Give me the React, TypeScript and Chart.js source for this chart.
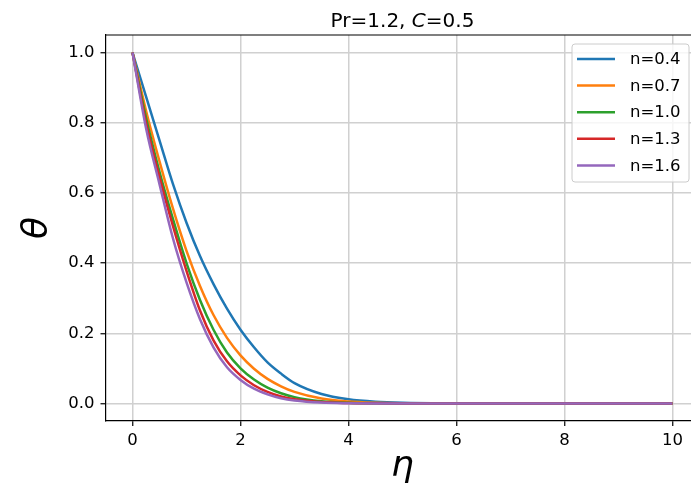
import React, { useEffect, useRef } from "react";
import { Chart, registerables } from "chart.js";

Chart.register(...registerables);

// ---- data ----
const eta = [0, 0.25, 0.5, 0.75, 1, 1.25, 1.5, 1.75, 2, 2.25, 2.5, 2.75, 3, 3.5, 4, 4.5, 5, 6, 7, 8, 9, 10];
const thetaN04 = [1, 0.875, 0.75, 0.625, 0.515, 0.42, 0.34, 0.27, 0.21, 0.16, 0.117, 0.085, 0.058, 0.027, 0.012, 0.005, 0.002, 0.0004, 0, 0, 0, 0];
const thetaN07 = [1, 0.835, 0.69, 0.555, 0.435, 0.335, 0.252, 0.187, 0.137, 0.099, 0.07, 0.049, 0.033, 0.014, 0.0055, 0.002, 0.0007, 0, 0, 0, 0, 0];
const thetaN10 = [1, 0.815, 0.66, 0.525, 0.4, 0.295, 0.21, 0.145, 0.1, 0.068, 0.045, 0.029, 0.018, 0.0065, 0.002, 0.0006, 0, 0, 0, 0, 0, 0];
const thetaN13 = [1, 0.8, 0.645, 0.505, 0.378, 0.265, 0.18, 0.12, 0.08, 0.052, 0.033, 0.02, 0.012, 0.0038, 0.0011, 0.0003, 0, 0, 0, 0, 0, 0];
const thetaN16 = [1, 0.785, 0.625, 0.47, 0.345, 0.24, 0.16, 0.103, 0.067, 0.042, 0.026, 0.015, 0.0085, 0.0024, 0.0006, 0, 0, 0, 0, 0, 0, 0];

const seriesLabels = ["n=0.4", "n=0.7", "n=1.0", "n=1.3", "n=1.6"];
const seriesValues = [thetaN04, thetaN07, thetaN10, thetaN13, thetaN16];
const seriesColors = ["#1f77b4", "#ff7f0e", "#2ca02c", "#d62728", "#9467bd"];

const xTicks = [0, 2, 4, 6, 8, 10];
const yTicks = [0, 0.2, 0.4, 0.6, 0.8, 1.0];

// visible x window (the axes run to 10.5 but the picture is cut at the right edge)
const X_MIN = -0.5;
const X_MAX_VISIBLE = 10.343;

const FONT = "'DejaVu Sans', sans-serif";

const overlayPlugin = {
  id: "overlay",
  afterDraw(chart: any) {
    const ctx = chart.ctx as CanvasRenderingContext2D;
    const ca = chart.chartArea;
    const xs = chart.scales.x;
    ctx.save();
    // top spine
    ctx.strokeStyle = "#000";
    ctx.lineWidth = 1.2;
    ctx.beginPath();
    ctx.moveTo(ca.left, ca.top);
    ctx.lineTo(ca.right + 2, ca.top);
    ctx.stroke();

    // title centred on full axes (-0.5 .. 10.5)
    const cx = (xs.getPixelForValue(-0.5) + xs.getPixelForValue(10.5)) / 2;
    const parts = [
      { t: "Pr=1.2, ", f: `20px ${FONT}` },
      { t: "C", f: `italic 20px ${FONT}` },
      { t: "=0.5", f: `20px ${FONT}` },
    ];
    let total = 0;
    for (const p of parts) {
      ctx.font = p.f;
      total += ctx.measureText(p.t).width;
    }
    let x = cx - total / 2;
    ctx.fillStyle = "#000";
    ctx.textBaseline = "alphabetic";
    ctx.textAlign = "left";
    for (const p of parts) {
      ctx.font = p.f;
      ctx.fillText(p.t, x, 27);
      x += ctx.measureText(p.t).width;
    }

    // axis labels
    ctx.font = `italic 36px ${FONT}`;
    ctx.textAlign = "center";
    ctx.fillText("η", cx, 476);
    ctx.save();
    ctx.translate(47, (ca.top + ca.bottom) / 2);
    ctx.rotate(-Math.PI / 2);
    ctx.fillText("θ", 0, 0);
    ctx.restore();

    // legend
    const bx = 572, by = 44, bw = 117, bh = 138, r = 3;
    ctx.beginPath();
    ctx.moveTo(bx + r, by);
    ctx.lineTo(bx + bw - r, by);
    ctx.quadraticCurveTo(bx + bw, by, bx + bw, by + r);
    ctx.lineTo(bx + bw, by + bh - r);
    ctx.quadraticCurveTo(bx + bw, by + bh, bx + bw - r, by + bh);
    ctx.lineTo(bx + r, by + bh);
    ctx.quadraticCurveTo(bx, by + bh, bx, by + bh - r);
    ctx.lineTo(bx, by + r);
    ctx.quadraticCurveTo(bx, by, bx + r, by);
    ctx.closePath();
    ctx.fillStyle = "rgba(255,255,255,0.8)";
    ctx.fill();
    ctx.strokeStyle = "#cccccc";
    ctx.lineWidth = 1;
    ctx.stroke();

    ctx.font = `16.5px ${FONT}`;
    ctx.textAlign = "left";
    ctx.textBaseline = "middle";
    chart.data.datasets.forEach((ds: any, i: number) => {
      const ry = 59 + i * 26.6;
      ctx.strokeStyle = ds.borderColor;
      ctx.lineWidth = 2.5;
      ctx.beginPath();
      ctx.moveTo(577, ry);
      ctx.lineTo(615, ry);
      ctx.stroke();
      ctx.fillStyle = "#000";
      ctx.fillText(ds.label, 630, ry + 1);
    });
    ctx.restore();
  },
};

export default function App() {
  const ref = useRef<HTMLCanvasElement | null>(null);

  useEffect(() => {
    if (!ref.current) return;
    const datasets = seriesLabels.map((label, i) => ({
      label,
      data: eta.map((e, k) => ({ x: e, y: seriesValues[i][k] })),
      borderColor: seriesColors[i],
      backgroundColor: seriesColors[i],
      borderWidth: 2.5,
      pointRadius: 0,
      fill: false,
      cubicInterpolationMode: "monotone" as const,
      order: seriesLabels.length - i,
    }));

    const chart = new Chart(ref.current, {
      type: "line",
      data: { datasets },
      options: {
        responsive: false,
        animation: false,
        devicePixelRatio: 1,
        layout: { padding: { top: 35, left: 0, right: 0, bottom: 0 } },
        plugins: {
          legend: { display: false },
          title: { display: false },
          tooltip: { enabled: false },
        },
        scales: {
          x: {
            type: "linear",
            min: X_MIN,
            max: X_MAX_VISIBLE,
            afterFit: (s: any) => {
              s.height = 69;
            },
            afterBuildTicks: (s: any) => {
              s.ticks = xTicks.map((v) => ({ value: v }));
            },
            ticks: {
              font: { family: FONT, size: 16.5 },
              color: "#000",
              padding: 5,
              maxRotation: 0,
              callback: (v: any) => String(v),
            },
            grid: {
              color: "#d0d0d0",
              lineWidth: 1.5,
              tickColor: "#000",
              tickLength: 5,
              tickWidth: 1.2,
            },
            border: { display: true, color: "#000", width: 1.2 },
          },
          y: {
            type: "linear",
            min: -0.05,
            max: 1.05,
            afterFit: (s: any) => {
              s.width = 105.5;
            },
            afterBuildTicks: (s: any) => {
              s.ticks = yTicks.map((v) => ({ value: v }));
            },
            ticks: {
              font: { family: FONT, size: 16.5 },
              color: "#000",
              padding: 6,
              callback: (v: any) => Number(v).toFixed(1),
            },
            grid: {
              color: "#d0d0d0",
              lineWidth: 1.5,
              tickColor: "#000",
              tickLength: 5,
              tickWidth: 1.2,
            },
            border: { display: true, color: "#000", width: 1.2 },
          },
        },
      },
      plugins: [overlayPlugin],
    });
    return () => chart.destroy();
  }, []);

  return (
    <div
      style={{
        position: "absolute",
        left: 0,
        top: 0,
        width: 691,
        height: 490,
        overflow: "hidden",
        background: "#fff",
      }}
    >
      <canvas ref={ref} width={691} height={490} style={{ display: "block" }} />
    </div>
  );
}
